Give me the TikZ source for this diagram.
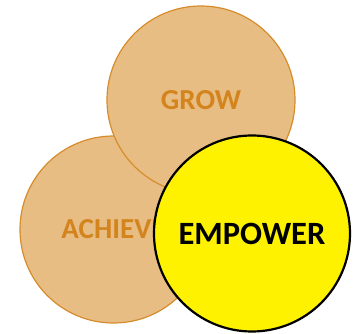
\documentclass[tikz,border=0pt]{standalone}
\usepackage{fontspec}
\setmainfont{Carlito}
\usepackage{tikz}
\usetikzlibrary{positioning}

\definecolor{tan}{RGB}{231,189,131}
\definecolor{rim}{RGB}{214,140,42}
\definecolor{word}{RGB}{212,132,28}

\begin{document}
\begin{tikzpicture}[x=1pt, y=1pt,
  ring/.style={circle, draw=rim, line width=1.2pt, fill=tan, inner sep=0pt,
    text=word, font=\bfseries\fontsize{29}{32}\selectfont},
  focus/.style={circle, draw=black, line width=2.2pt, fill=yellow, inner sep=0pt,
    text=black, font=\bfseries\fontsize{32.5}{35}\selectfont}]
\useasboundingbox (0,0) rectangle (357,333);

\coordinate (pa) at (113.5, 103.5);
\coordinate (pg) at (201, 233);
\coordinate (pe) at (252, 99.5);

\node[ring, minimum size=187] (achieve) at (pa) {ACHIEVE};
\node[ring, minimum size=188] (grow) at (pg) {GROW};
\node[focus, minimum size=196] (empower) at (pe) {EMPOWER};
\end{tikzpicture}
\end{document}
